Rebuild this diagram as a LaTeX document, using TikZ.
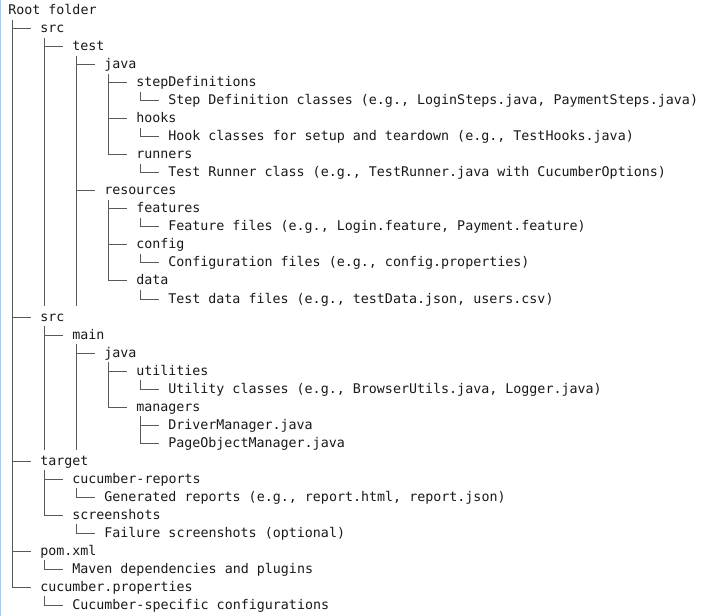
\documentclass[tikz,border=0pt]{standalone}
\usepackage{fontspec}
\newfontfamily\treefont{DejaVu Sans Mono}
\usetikzlibrary{positioning}

\definecolor{framebl}{RGB}{170,200,235}
\tikzset{
  entry/.style={anchor=base west, inner sep=0pt, text height=8pt, text depth=2pt,
    font=\treefont\fontsize{10}{12}\selectfont, text=black!90},
  branch/.style={line width=0.75pt, color=black!65}
}

\begin{document}
\begin{tikzpicture}[x=0.75pt, y=-0.75pt]
    \useasboundingbox (0,0) rectangle (702,616);
    \draw[framebl, line width=0.75pt] (0.5,0) -- (0.5,616);

    % folders and files, one per line
    \node[entry] (root) at (8,15) {Root folder};
    \node[entry] (srcA) at (40,33) {src};
    \node[entry] (test) at (72,51) {test};
    \node[entry] (javaA) at (104,69) {java};
    \node[entry] (stepdefs) at (136,87) {stepDefinitions};
    \node[entry] (stepdesc) at (168,105) {Step Definition classes (e.g., LoginSteps.java, PaymentSteps.java)};
    \node[entry] (hooks) at (136,123) {hooks};
    \node[entry] (hookdesc) at (168,141) {Hook classes for setup and teardown (e.g., TestHooks.java)};
    \node[entry] (runners) at (136,159) {runners};
    \node[entry] (runnerdesc) at (168,177) {Test Runner class (e.g., TestRunner.java with CucumberOptions)};
    \node[entry] (resources) at (104,195) {resources};
    \node[entry] (features) at (136,213) {features};
    \node[entry] (featdesc) at (168,231) {Feature files (e.g., Login.feature, Payment.feature)};
    \node[entry] (config) at (136,249) {config};
    \node[entry] (confdesc) at (168,267) {Configuration files (e.g., config.properties)};
    \node[entry] (data) at (136,285) {data};
    \node[entry] (datadesc) at (168,303) {Test data files (e.g., testData.json, users.csv)};
    \node[entry] (srcB) at (40,321) {src};
    \node[entry] (main) at (72,339) {main};
    \node[entry] (javaB) at (104,357) {java};
    \node[entry] (utilities) at (136,375) {utilities};
    \node[entry] (utildesc) at (168,393) {Utility classes (e.g., BrowserUtils.java, Logger.java)};
    \node[entry] (managers) at (136,411) {managers};
    \node[entry] (drivermgr) at (168,429) {DriverManager.java};
    \node[entry] (pagemgr) at (168,447) {PageObjectManager.java};
    \node[entry] (target) at (40,465) {target};
    \node[entry] (reports) at (72,483) {cucumber-reports};
    \node[entry] (repdesc) at (104,501) {Generated reports (e.g., report.html, report.json)};
    \node[entry] (shots) at (72,519) {screenshots};
    \node[entry] (shotdesc) at (104,537) {Failure screenshots (optional)};
    \node[entry] (pom) at (40,555) {pom.xml};
    \node[entry] (pomdesc) at (72,573) {Maven dependencies and plugins};
    \node[entry] (cucprops) at (40,591) {cucumber.properties};
    \node[entry] (cucdesc) at (72,609) {Cucumber-specific configurations};

    % tree branches
    \foreach \p/\c in {root/srcA, root/srcB, root/target, root/pom, root/cucprops,
        srcA/test, test/javaA, test/resources,
        javaA/stepdefs, javaA/hooks, javaA/runners,
        stepdefs/stepdesc, hooks/hookdesc, runners/runnerdesc,
        resources/features, resources/config, resources/data,
        features/featdesc, config/confdesc, data/datadesc,
        srcB/main, main/javaB, javaB/utilities, javaB/managers,
        utilities/utildesc, managers/drivermgr, managers/pagemgr,
        target/reports, target/shots, reports/repdesc, shots/shotdesc,
        pom/pomdesc, cucprops/cucdesc}
      \draw[branch] ([xshift=3pt,yshift=-1.5pt]\p.south west) |- ([xshift=-7pt]\c.west);

    % open bars running on to the end of a subtree
    \foreach \p/\e in {srcA/datadesc, test/datadesc, srcB/pagemgr, main/pagemgr}
      \draw[branch] ([xshift=3pt,yshift=-1.5pt]\p.south west) -- ([xshift=3pt]\p.south west |- \e.south);

\end{tikzpicture}
\end{document}
